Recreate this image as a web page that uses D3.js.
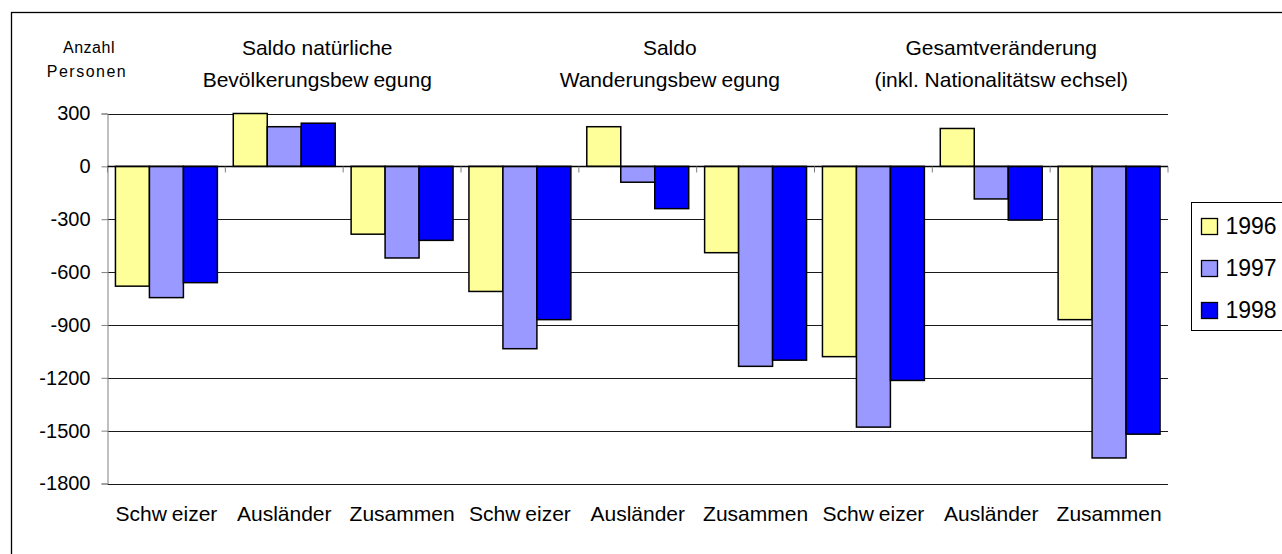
<!DOCTYPE html>
<html>
<head>
<meta charset="utf-8">
<script src="https://cdn.jsdelivr.net/npm/d3@7"></script>
<style>
  body { margin: 0; background: #fff; }
  text { font-family: "Liberation Sans", Arial, sans-serif; fill: #000; }
</style>
</head>
<body>
<div id="chart"></div>
<script>
// Bevölkerungsbilanz 1996-1998
const categories = ["Schweizer", "Ausländer", "Zusammen",
                    "Schweizer", "Ausländer", "Zusammen",
                    "Schweizer", "Ausländer", "Zusammen"];
const groupTitles = [["Saldo natürliche", "Bevölkerungsbewegung"],
                     ["Saldo", "Wanderungsbewegung"],
                     ["Gesamtveränderung", "(inkl. Nationalitätswechsel)"]];
const years = ["1996", "1997", "1998"];
const values1996 = [-680, 300, -385, -710, 225, -490, -1080, 215, -870];
const values1997 = [-745, 225, -520, -1035, -90, -1135, -1480, -185, -1655];
const values1998 = [-660, 245, -420, -870, -240, -1100, -1215, -305, -1520];
const yTicks = [300, 0, -300, -600, -900, -1200, -1500, -1800];
const colors = ["#FFFF99", "#9999FF", "#0000FF"];

const width = 1282;
const height = 554;
const margin = {top: 113.5, left: 107.5, right: 114, bottom: 70};

const svg = d3.select("#chart")
              .append("svg")
              .attr("width", width)
              .attr("height", height);

// outer frame (runs off the right and bottom edge)
svg.append("rect")
   .attr("x", 11.5).attr("y", 12.5)
   .attr("width", 1400).attr("height", 700)
   .attr("fill", "none")
   .attr("stroke", "#000")
   .attr("stroke-width", 1.3);

const ids = d3.range(categories.length);

const x = d3.scaleBand()
            .domain(ids)
            .range([margin.left, width - margin.right])
            .paddingInner(0)
            .paddingOuter(0);

const xYear = d3.scaleBand()
                .domain(years)
                .range([0, x.bandwidth()])
                .paddingInner(0)
                .paddingOuter(0.234);

const y = d3.scaleLinear()
            .domain([-1800, 300])
            .range([483.5, margin.top]);

// gridlines
svg.append("g")
   .selectAll("line")
   .data(yTicks.filter(d => d !== 0))
   .enter()
   .append("line")
   .attr("x1", margin.left)
   .attr("x2", width - margin.right)
   .attr("y1", d => Math.round(y(d)) + 0.5)
   .attr("y2", d => Math.round(y(d)) + 0.5)
   .attr("stroke", "#1a1a1a")
   .attr("stroke-width", 1);

// y axis
const yAxis = svg.append("g")
   .attr("transform", `translate(${margin.left},0)`)
   .call(d3.axisLeft(y).tickValues(yTicks).tickSize(6).tickPadding(11).tickFormat(d => String(d)));
yAxis.select(".domain").attr("stroke", "#808080");
yAxis.selectAll(".tick line").attr("stroke", "#808080");
yAxis.selectAll(".tick text")
     .style("font-family", "Liberation Sans, Arial, sans-serif")
     .style("font-size", "20px")
     .attr("fill", "#000");

// bars
const series = [values1996, values1997, values1998];
series.forEach((vals, i) => {
  svg.append("g")
     .selectAll("rect")
     .data(ids)
     .enter()
     .append("rect")
     .attr("x", d => x(d) + xYear(years[i]))
     .attr("y", d => y(Math.max(0, vals[d])))
     .attr("width", xYear.bandwidth())
     .attr("height", d => Math.abs(y(vals[d]) - y(0)))
     .attr("fill", colors[i])
     .attr("stroke", "#000")
     .attr("stroke-width", 1.5);
});

// zero line with category ticks
const zero = Math.round(y(0)) + 0.5;
svg.append("line")
   .attr("x1", margin.left).attr("x2", width - margin.right)
   .attr("y1", zero).attr("y2", zero)
   .attr("stroke", "#000").attr("stroke-width", 1.3);
svg.append("g")
   .selectAll("line")
   .data(d3.range(categories.length + 1))
   .enter()
   .append("line")
   .attr("x1", d => margin.left + d * x.step())
   .attr("x2", d => margin.left + d * x.step())
   .attr("y1", zero)
   .attr("y2", zero + 6)
   .attr("stroke", "#808080");

// text with the little gap after "w" like the original
function gapText(sel, str) {
  const parts = str.split(/(?<=w)(?=[a-z])/);
  parts.forEach((p, i) => {
    sel.append("tspan").attr("dx", i ? 5 : 0).text(p);
  });
}

// category labels
ids.forEach(d => {
  const t = svg.append("text")
     .attr("x", x(d) + x.bandwidth() / 2)
     .attr("y", 521)
     .attr("text-anchor", "middle")
     .style("font-size", "21px");
  gapText(t, categories[d]);
});

// group titles
const titleShift = [33, 32, 10];
groupTitles.forEach((lines, g) => {
  const cx = x(g * 3 + 1) + x.bandwidth() / 2 + titleShift[g];
  lines.forEach((line, k) => {
    const t = svg.append("text")
       .attr("x", cx)
       .attr("y", 55 + k * 32)
       .attr("text-anchor", "middle")
       .style("font-size", "21px");
    gapText(t, line);
  });
});

// y axis title
svg.append("text").attr("x", 89).attr("y", 53).attr("text-anchor", "middle")
   .style("font-size", "16px").attr("letter-spacing", "0.5px").text("Anzahl");
svg.append("text").attr("x", 87).attr("y", 77).attr("text-anchor", "middle")
   .style("font-size", "16px").attr("letter-spacing", "1.5px").text("Personen");

// legend
const legend = svg.append("g").attr("transform", "translate(1191.5,202.5)");
legend.append("rect")
      .attr("width", 200).attr("height", 128)
      .attr("fill", "#fff").attr("stroke", "#000").attr("stroke-width", 1);
years.forEach((yr, i) => {
  legend.append("rect")
        .attr("x", 10).attr("y", 16 + i * 42)
        .attr("width", 16).attr("height", 16)
        .attr("fill", colors[i]).attr("stroke", "#000").attr("stroke-width", 1.3);
  legend.append("text")
        .attr("x", 34).attr("y", 31 + i * 42)
        .style("font-size", "23px")
        .text(yr);
});
</script>
</body>
</html>
